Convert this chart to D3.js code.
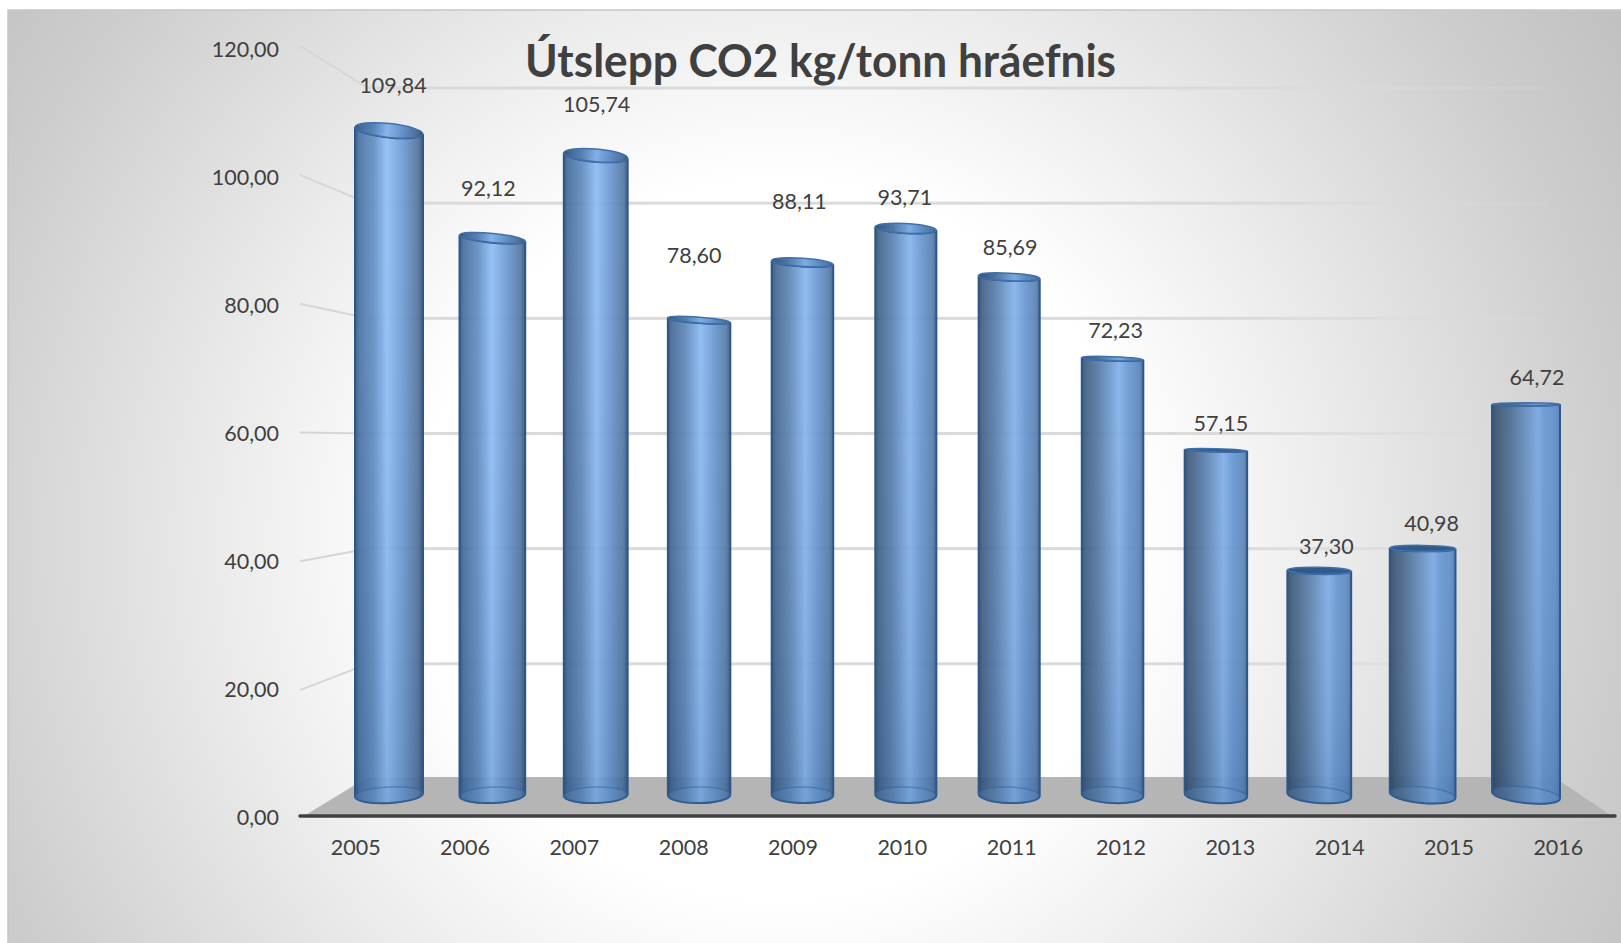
<!DOCTYPE html>
<html lang="en">
<head>
    <meta charset="UTF-8">
    <title>Útslepp CO2</title>
    <style>
      html, body { margin: 0; padding: 0; background: #fff; }
      svg { display: block; }
      text { font-family: Lato, "Open Sans", sans-serif; fill: #404040; }
      .axis text { font-size: 21.5px; }
      .axis .domain, .axis line { display: none; }
      .value { font-size: 21.5px; text-anchor: middle; }
      .title { font-size: 46px; font-weight: bold; }
    </style>
</head>
<body>

<svg height="943" width="1621"></svg>

<script src="https://d3js.org/d3.v7.min.js"></script>

<script>

  var years = ['2005', '2006', '2007', '2008', '2009', '2010', '2011', '2012', '2013', '2014', '2015', '2016'];
  var co2 = [109.84, 92.12, 105.74, 78.60, 88.11, 93.71, 85.69, 72.23, 57.15, 37.30, 40.98, 64.72];
  var yTicks = [0, 20, 40, 60, 80, 100, 120];

  // the value labels were dragged by hand in the original, px above each bar top / px to the right
  var labelLift = [45, 50, 51, 65, 61, 31, 30, 28, 27, 24, 25, 27];
  var labelShift = [15, 5, 8, 0, 0, 0, 0, 0, 0, 0, 0, 0];

  var svg = d3.select("svg");
  var defs = svg.append("defs");

  var comma = d3.formatLocale({decimal: ",", thousands: ".", grouping: [3], currency: ["", ""]}).format(".2f");

  // the 3d look: front edge of the floor, back wall, and the bars standing half way
  var yFront = d3.scaleLinear().domain([0, 120]).range([817.5, 49.5]);
  var ySide = d3.scaleLinear().domain([0, 120]).range([819, 46]);
  var yBack = d3.scaleLinear().domain([0, 120]).range([779, 88]);
  var yBar = d3.scaleLinear().domain([0, 110]).range([797, 129.5]);

  var xFront = d3.scaleBand().domain(years).range([301, 1613]);
  var xBar = d3.scalePoint().domain(years).range([389, 1526]);
  var xLabel = d3.scalePoint().domain(years).range([378, 1537]);

  var frontLeft = 300, frontRight = 1615, backLeft = 368, backRight = 1554;
  var floorFront = 816, floorBack = 777, barBase = 795;
  var midX = (389 + 1526) / 2;
  var horizon = 60;

  var barWidth = function(year) {
    var d = (xBar(year) - midX) / (1526 - midX);
    return 61 + 7 * d * d;
  }

  var topRy = function(v) {
    return 1.5 + 0.13 * Math.max(0, Math.abs(v - horizon) - 8);
  }

  var rad = function(deg) { return deg * Math.PI / 180; }
  var topTilt = d3.scaleLinear().domain([0, 11]).range([6, 0]);
  var bottomTilt = d3.scaleLinear().domain([0, 11]).range([-3, 6]);

  // background
  var bg = defs.append("radialGradient")
    .attr("id", "bg")
    .attr("gradientUnits", "userSpaceOnUse")
    .attr("cx", 780).attr("cy", 540).attr("r", 1000);
  [[0.36, "#ffffff"], [0.56, "#ebebeb"], [0.84, "#cdcdcd"], [1, "#c0c0c0"]].forEach(function(s) {
    bg.append("stop").attr("offset", s[0]).attr("stop-color", s[1]);
  });

  svg.append("rect")
    .attr("x", 8).attr("y", 10).attr("width", 1613).attr("height", 933)
    .attr("fill", "url(#bg)");
  svg.append("path")
    .attr("d", "M8,943V10H1621")
    .attr("fill", "none").attr("stroke", "#c6c6c6").attr("stroke-width", 1.5);

  // wall lines fade out toward the right
  var gridFade = defs.append("linearGradient")
    .attr("id", "gridFade")
    .attr("gradientUnits", "userSpaceOnUse")
    .attr("x1", backLeft).attr("x2", backRight - 8).attr("y1", 0).attr("y2", 0);
  gridFade.append("stop").attr("offset", 0.75).attr("stop-color", "#dadada");
  gridFade.append("stop").attr("offset", 1).attr("stop-color", "#dadada").attr("stop-opacity", 0.15);

  // rect instead of line, a gradient stroke does not paint on a flat line
  svg.selectAll(".grid")
    .data(yTicks.filter(function(t) { return t > 0; }))
    .enter()
    .append("rect")
    .attr("x", backLeft).attr("width", backRight - 8 - backLeft)
    .attr("y", function(d) { return yBack(d) - 1.5; })
    .attr("height", 3)
    .attr("fill", "url(#gridFade)");

  svg.selectAll(".side")
    .data(yTicks.filter(function(t) { return t > 0; }))
    .enter()
    .append("line")
    .attr("x1", frontLeft).attr("x2", backLeft)
    .attr("y1", function(d) { return ySide(d); })
    .attr("y2", function(d) { return yBack(d); })
    .attr("stroke", "#d6d6d6").attr("stroke-width", 2);

  // floor
  svg.append("path")
    .attr("d", d3.line()([[frontLeft + 4, floorFront], [backLeft, floorBack], [backRight, floorBack], [frontRight - 3, floorFront]]))
    .attr("fill", "#b5b5b5");

  svg.append("line")
    .attr("x1", frontLeft).attr("x2", frontRight)
    .attr("y1", floorFront).attr("y2", floorFront)
    .attr("stroke", "#404040").attr("stroke-width", 3.5)
    .attr("stroke-linecap", "round");

  // one horizontal gradient per cylinder, the light moves to the right across the chart
  var leftEdge = d3.scaleLinear().domain([0, 11]).range(["#2b4f7c", "#2d4159"]);
  var leftBand = d3.scaleLinear().domain([0, 11]).range(["#446fa3", "#364e6b"]);
  var leftMid = d3.scaleLinear().domain([0, 11]).range(["#5f8dc4", "#4a6c93"]);
  var light = d3.scaleLinear().domain([0, 11]).range(["#8dbef9", "#76a6e2"]);
  var rightMid = d3.scaleLinear().domain([0, 11]).range(["#628fc8", "#6597d4"]);
  var rightBand = d3.scaleLinear().domain([0, 11]).range(["#4f7099", "#5c8dc9"]);
  var rightEdge = d3.scaleLinear().domain([0, 11]).range(["#2c4a72", "#4a7ab6"]);
  var lightAt = d3.scaleLinear().domain([0, 11]).range([0.47, 0.68]);

  var addCylGradient = function(id, i, dim) {
    var g = defs.append("linearGradient").attr("id", id);
    [
      [0, leftEdge(i)],
      [0.06, leftBand(i)],
      [0.28, leftMid(i)],
      [lightAt(i), light(i)],
      [0.76, rightMid(i)],
      [0.93, rightBand(i)],
      [1, rightEdge(i)]
    ].forEach(function(s) {
      g.append("stop").attr("offset", s[0]).attr("stop-color", d3.color(s[1]).darker(dim).formatHex());
    });
  }

  years.forEach(function(year, i) {
    addCylGradient("cyl" + i, i, 0);
    addCylGradient("lid" + i, i, 0.15);
  });

  var shade = defs.append("linearGradient")
    .attr("id", "shade")
    .attr("x1", 0).attr("x2", 0).attr("y1", 0).attr("y2", 1);
  shade.append("stop").attr("offset", 0).attr("stop-color", "#ffffff").attr("stop-opacity", 0.03);
  shade.append("stop").attr("offset", 1).attr("stop-color", "#00204a").attr("stop-opacity", 0.12);

  // bars
  var bodyPath = function(year, i) {
    var cx = xBar(year), rx = barWidth(year) / 2;
    var yT = yBar(co2[i]), yB = barBase;
    var a = bottomTilt(i);
    var dy = rx * Math.sin(rad(a));
    var dyT = rx * Math.sin(rad(topTilt(i)));
    return "M" + (cx - rx) + "," + (yT - dyT)
      + "L" + (cx - rx) + "," + (yB - dy)
      + "A" + rx + ",8 " + a + " 0 0 " + (cx + rx) + "," + (yB + dy)
      + "L" + (cx + rx) + "," + (yT + dyT)
      + "A" + rx + "," + topRy(co2[i]) + " " + topTilt(i) + " 0 1 " + (cx - rx) + "," + (yT - dyT)
      + "Z";
  }

  var bars = svg.selectAll(".bar")
    .data(years)
    .enter()
    .append("g")
    .attr("class", "bar");

  bars.append("path")
    .attr("d", bodyPath)
    .attr("fill", function(d, i) { return "url(#cyl" + i + ")"; })
    .attr("fill-opacity", 0.93);

  bars.append("path")
    .attr("d", bodyPath)
    .attr("fill", "url(#shade)")
    .attr("stroke", "#2d5788")
    .attr("stroke-width", 2);

  // floor of the cylinder, seen through it
  bars.append("ellipse")
    .attr("rx", function(d) { return barWidth(d) / 2; })
    .attr("ry", 8)
    .attr("transform", function(d, i) { return "translate(" + xBar(d) + "," + barBase + ") rotate(" + bottomTilt(i) + ")"; })
    .attr("fill", "#6f9fd8").attr("fill-opacity", 0.2)
    .attr("stroke", "#2f5f98").attr("stroke-opacity", 0.45).attr("stroke-width", 1.5);

  // lid, dark when we look at it from below
  bars.append("ellipse")
    .attr("rx", function(d) { return barWidth(d) / 2; })
    .attr("ry", function(d, i) { return topRy(co2[i]); })
    .attr("transform", function(d, i) { return "translate(" + xBar(d) + "," + yBar(co2[i]) + ") rotate(" + topTilt(i) + ")"; })
    .attr("fill", function(d, i) { return co2[i] < horizon ? "#31598c" : "url(#lid" + i + ")"; })
    .attr("stroke", "#3f70aa").attr("stroke-width", 1.5);

  svg.selectAll(".value")
    .data(years)
    .enter()
    .append("text")
    .attr("class", "value")
    .attr("x", function(d, i) { return xLabel(d) + labelShift[i]; })
    .attr("y", function(d, i) { return yBar(co2[i]) - labelLift[i]; })
    .attr("dy", "0.35em")
    .text(function(d, i) { return comma(co2[i]); });

  // axes
  svg.append("g")
    .attr("class", "axis")
    .attr("transform", "translate(300,0)")
    .call(d3.axisLeft(yFront).tickValues(yTicks).tickSize(0).tickPadding(21).tickFormat(comma));

  svg.append("g")
    .attr("class", "axis")
    .attr("transform", "translate(0,816)")
    .call(d3.axisBottom(xFront).tickSize(0).tickPadding(24));

  svg.append("text")
    .attr("class", "title")
    .attr("x", 525)
    .attr("y", 77)
    .attr("textLength", 591)
    .attr("lengthAdjust", "spacingAndGlyphs")
    .text("Útslepp CO2 kg/tonn hráefnis");

</script>
</body>
</html>
